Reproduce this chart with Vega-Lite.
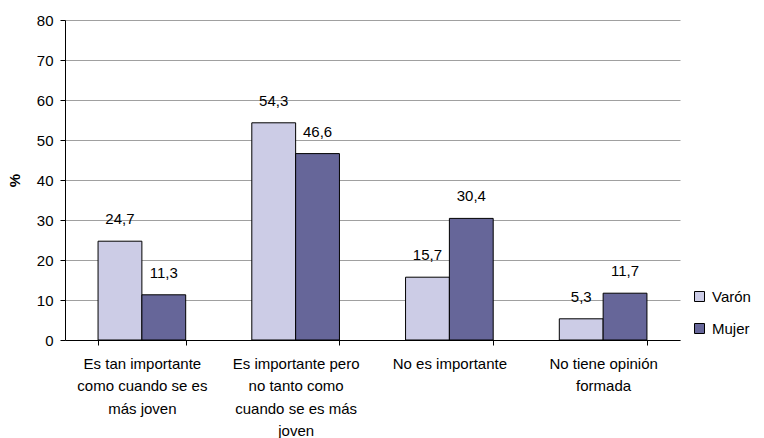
{
  "$schema": "https://vega.github.io/schema/vega-lite/v6.json",
  "width": 615,
  "height": 320,
  "autosize": {"type": "none"},
  "padding": {"left": 65, "top": 20, "right": 84, "bottom": 98},
  "background": "white",
  "config": {
    "view": {"stroke": null},
    "font": "Liberation Sans",
    "locale": {"number": {"decimal": ",", "thousands": ".", "grouping": [3], "currency": ["", " €"]}}
  },
  "data": {
    "values": [
      {"cat": "Es tan importante|como cuando se es|más joven", "sexo": "Varón", "valor": 24.7},
      {"cat": "Es tan importante|como cuando se es|más joven", "sexo": "Mujer", "valor": 11.3},
      {"cat": "Es importante pero|no tanto como|cuando se es más|joven", "sexo": "Varón", "valor": 54.3},
      {"cat": "Es importante pero|no tanto como|cuando se es más|joven", "sexo": "Mujer", "valor": 46.6},
      {"cat": "No es importante", "sexo": "Varón", "valor": 15.7},
      {"cat": "No es importante", "sexo": "Mujer", "valor": 30.4},
      {"cat": "No tiene opinión|formada", "sexo": "Varón", "valor": 5.3},
      {"cat": "No tiene opinión|formada", "sexo": "Mujer", "valor": 11.7}
    ]
  },
  "encoding": {
    "x": {
      "field": "cat",
      "type": "nominal",
      "sort": null,
      "scale": {"paddingInner": 0.43, "paddingOuter": 0.215},
      "axis": {
        "title": null,
        "labelAngle": 0,
        "labelExpr": "split(datum.label, '|')",
        "labelFontSize": 15,
        "labelColor": "#000000",
        "labelLineHeight": 22.5,
        "labelPadding": 11,
        "labelBaseline": "top",
        "tickBand": "extent",
        "tickSize": 5,
        "tickColor": "#000000",
        "domainColor": "#000000",
        "labelLimit": 200
      }
    },
    "xOffset": {"field": "sexo", "type": "nominal", "sort": ["Varón", "Mujer"], "scale": {"paddingInner": 0, "paddingOuter": 0}},
    "y": {
      "field": "valor",
      "type": "quantitative",
      "scale": {"domain": [0, 80]},
      "axis": {
        "title": "%",
        "titleFontSize": 15,
        "titleFontWeight": "bold",
        "titleColor": "#000000",
        "titlePadding": 14,
        "values": [0, 10, 20, 30, 40, 50, 60, 70, 80],
        "labelFontSize": 15,
        "labelColor": "#000000",
        "labelPadding": 7,
        "tickSize": 5,
        "tickColor": "#000000",
        "domainColor": "#000000",
        "grid": true,
        "gridColor": "#A0A0A0"
      }
    }
  },
  "layer": [
    {
      "mark": {"type": "bar", "stroke": "#000000", "strokeWidth": 1},
      "encoding": {
        "color": {
          "field": "sexo",
          "type": "nominal",
          "sort": ["Varón", "Mujer"],
          "scale": {"domain": ["Varón", "Mujer"], "range": ["#CCCCE6", "#666699"]},
          "legend": {
            "title": null,
            "orient": "none",
            "legendX": 627,
            "legendY": 269,
            "symbolType": "square",
            "symbolSize": 100,
            "symbolStrokeColor": "#000000",
            "symbolStrokeWidth": 1,
            "labelFontSize": 15,
            "labelColor": "#000000",
            "rowPadding": 16,
            "labelOffset": 5
          }
        }
      }
    },
    {
      "mark": {"type": "text", "baseline": "alphabetic", "dy": -17, "fontSize": 15, "color": "#000000"},
      "encoding": {
        "text": {"field": "valor", "type": "quantitative", "format": ".1f"}
      }
    }
  ]
}
